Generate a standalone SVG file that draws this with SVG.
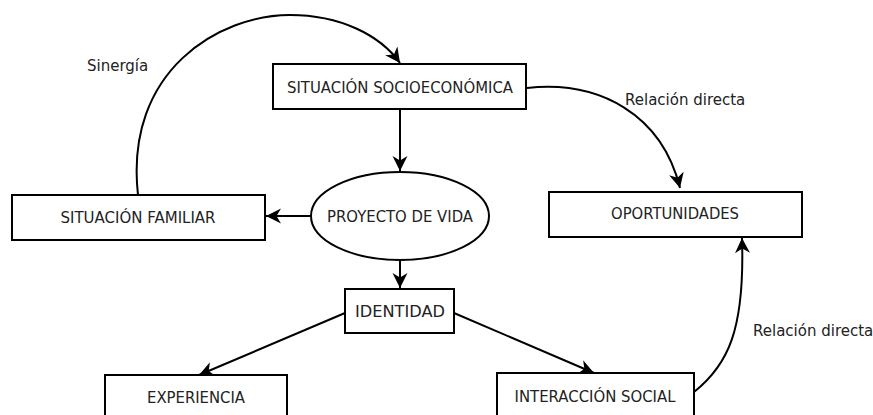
<svg xmlns="http://www.w3.org/2000/svg" width="873" height="415" viewBox="0 0 873 415">
<defs>
<style>
.box{fill:#fff;stroke:#000;stroke-width:2}
.lbl{font-family:"DejaVu Sans",sans-serif;font-size:15.5px;fill:#222;text-anchor:middle}
.note{font-family:"DejaVu Sans",sans-serif;font-size:15px;fill:#222}
.con{fill:none;stroke:#000;stroke-width:2;marker-end:url(#ah)}
</style>
<marker id="ah" markerUnits="userSpaceOnUse" markerWidth="18" markerHeight="18" refX="15" refY="7.5" orient="auto">
<path d="M0,0 L15,7.5 L0,15 L4.5,7.5 z" fill="#000"/>
</marker>
</defs>
<rect width="873" height="415" fill="#fff"/>
<g id="connectors">
<path class="con" d="M400,109 L400,171"/>
<path class="con" d="M311,216 L266,216"/>
<path class="con" d="M400,260 L400,288"/>
<path class="con" d="M345,313 L199,375"/>
<path class="con" d="M454,313 L594,373"/>
<path class="con" d="M138,195 C124,70 220,15 290,15 C340,15 380,35 400,63"/>
<path class="con" d="M527,88 C600,80 662,115 680,188"/>
<path class="con" d="M694,392 C728,365 745,330 742,238"/>
</g>
<g id="n-socio"><rect class="box" x="273" y="64" width="253" height="45"/><text class="lbl" x="400" y="93" textLength="226" lengthAdjust="spacingAndGlyphs">SITUACIÓN SOCIOECONÓMICA</text></g>
<g id="n-proyecto"><ellipse class="box" cx="400" cy="216" rx="89" ry="44"/><text class="lbl" x="400" y="222" textLength="146" lengthAdjust="spacingAndGlyphs">PROYECTO DE VIDA</text></g>
<g id="n-familiar"><rect class="box" x="12" y="195" width="253" height="45"/><text class="lbl" x="138" y="223" textLength="155" lengthAdjust="spacingAndGlyphs">SITUACIÓN FAMILIAR</text></g>
<g id="n-oportunidades"><rect class="box" x="549" y="192" width="253" height="45"/><text class="lbl" x="675" y="219" textLength="128" lengthAdjust="spacingAndGlyphs">OPORTUNIDADES</text></g>
<g id="n-identidad"><rect class="box" x="345" y="289" width="109" height="44"/><text class="lbl" x="400" y="317" textLength="90" lengthAdjust="spacingAndGlyphs">IDENTIDAD</text></g>
<g id="n-experiencia"><rect class="box" x="105" y="375" width="182" height="50"/><text class="lbl" x="196" y="403" textLength="98" lengthAdjust="spacingAndGlyphs">EXPERIENCIA</text></g>
<g id="n-interaccion"><rect class="box" x="497" y="373" width="197" height="50"/><text class="lbl" x="595" y="402" textLength="161" lengthAdjust="spacingAndGlyphs">INTERACCIÓN SOCIAL</text></g>
<g id="labels">
<text class="note" x="87" y="71">Sinergía</text>
<text class="note" x="625" y="105">Relación directa</text>
<text class="note" x="753" y="336">Relación directa</text>
</g>
</svg>
